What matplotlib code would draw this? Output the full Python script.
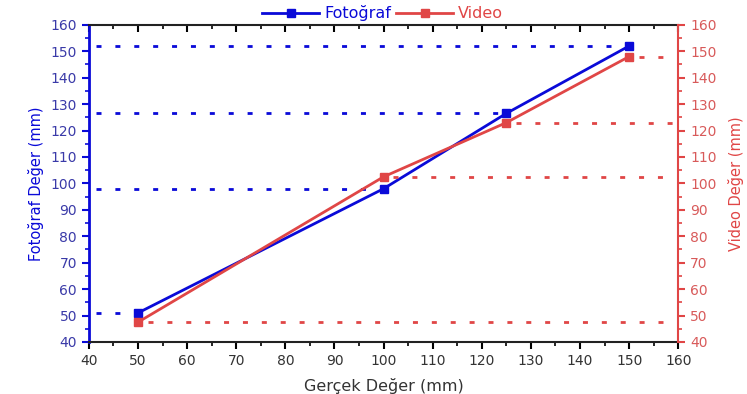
import matplotlib.pyplot as plt
from matplotlib.ticker import MultipleLocator

gercek = [50, 100, 125, 150]
fotograf = [51, 98, 126.5, 152]
video = [47.5, 102.5, 123, 148]

blue = "#0a0ad8"
red = "#e04646"
blue_txt = "#3a3aa8"
red_txt = "#d85a5a"

fig = plt.figure(figsize=(7.47, 3.94), dpi=100)
ax = fig.add_axes([0.119, 0.132, 0.789, 0.805])
ax2 = ax.twinx()

dash = (0, (1.8, 5.0))
# reference lines: photo -> left axis, video -> right axis
for x, y in zip(gercek, fotograf):
    ax.plot([41.5, x - 1.5], [y, y], color=blue, lw=2, linestyle=dash)
for x, y in zip(gercek, video):
    ax2.plot([x + 2, 159], [y, y], color=red, lw=2, linestyle=dash)

l1, = ax.plot(gercek, fotograf, color=blue, lw=2, marker="s", markersize=5.5, label="Fotoğraf")
l2, = ax2.plot(gercek, video, color=red, lw=2, marker="s", markersize=5.5, label="Video")

for a in (ax, ax2):
    a.set_xlim(40, 160)
    a.set_ylim(40, 160)
    a.yaxis.set_major_locator(MultipleLocator(10))
    a.yaxis.set_minor_locator(MultipleLocator(5))
ax.xaxis.set_major_locator(MultipleLocator(10))
ax.xaxis.set_minor_locator(MultipleLocator(5))

ax.spines["left"].set_color(blue)
ax.spines["left"].set_linewidth(2)
ax2.spines["left"].set_visible(False)
ax2.spines["right"].set_color(red)
ax2.spines["right"].set_linewidth(1.5)
ax.spines["right"].set_visible(False)
for s in ("top", "bottom"):
    ax.spines[s].set_linewidth(1.5)
    ax.spines[s].set_color("#222222")
    ax2.spines[s].set_visible(False)

ax.tick_params(axis="y", which="both", direction="out", colors=blue, labelcolor=blue_txt, labelsize=10)
ax.tick_params(axis="y", which="major", length=5, width=1.5)
ax.tick_params(axis="y", which="minor", length=3, width=1.2)
ax.tick_params(axis="x", which="both", direction="out", top=True, labelsize=10, labelcolor="#333333")
ax.tick_params(axis="x", which="major", length=5, width=1.5)
ax.tick_params(axis="x", which="minor", length=3, width=1.2)
ax2.tick_params(axis="y", which="both", direction="out", colors=red, labelcolor=red_txt, labelsize=10)
ax2.tick_params(axis="y", which="major", length=5, width=1.5)
ax2.tick_params(axis="y", which="minor", length=3, width=1.2)

# top ticks point inward
for t in ax.xaxis.get_major_ticks() + ax.xaxis.get_minor_ticks():
    t.tick2line.set_marker(3)

ax.set_xlabel("Gerçek Değer (mm)", fontsize=11.5, color="#333333", labelpad=7)
ax.set_ylabel("Fotoğraf Değer (mm)", fontsize=10.5, color=blue, labelpad=5)
ax2.set_ylabel("Video Değer (mm)", fontsize=10.5, color=red, rotation=90, labelpad=8)

leg = fig.legend([l1, l2], ["Fotoğraf", "Video"], loc="center", bbox_to_anchor=(0.512, 0.966),
                 ncol=2, frameon=False, fontsize=11.5, handlelength=3.6, columnspacing=0.3,
                 handletextpad=0.3, borderpad=0)
for txt, c in zip(leg.get_texts(), (blue, red)):
    txt.set_color(c)

fig.savefig("out.png", dpi=100)
